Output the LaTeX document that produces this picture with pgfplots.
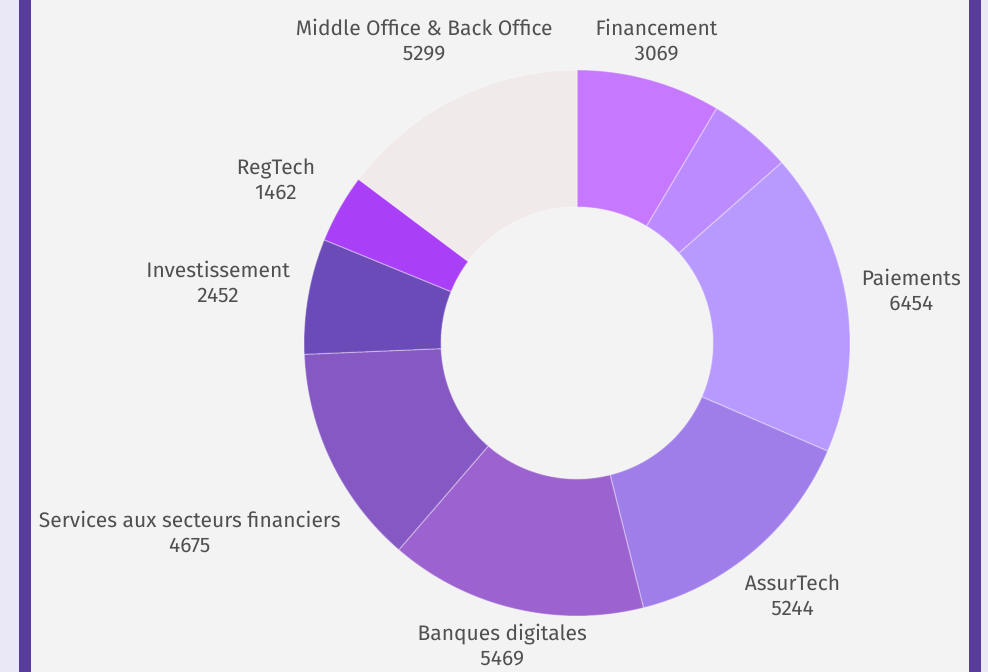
\documentclass[border=0pt]{standalone}
\usepackage{pgfplots}
\pgfplotsset{compat=1.18}
\usepackage{pgfplotstable}
\usepackage{fontspec}
\setmainfont{Fira Sans}
\definecolor{lav}{HTML}{EAE8F6}
\definecolor{brd}{HTML}{573D99}
\definecolor{panel}{HTML}{F3F3F3}
\definecolor{txt}{HTML}{505050}

% segments clockwise from 12 o'clock; nx/ny nudge the label (px)
\pgfplotstableread[col sep=semicolon]{
label;value;hex;show;nx;ny
Financement;3069;C678FF;1;-3;4
Autres;1780;BC8CFF;0;0;0
Paiements;6454;B89AFF;1;0;0
AssurTech;5244;A07EEA;1;11;-12
Banques digitales;5469;9C62CF;1;-3;0
Services aux secteurs financiers;4675;8658C3;1;-80;-41
Investissement;2452;6B4BB8;1;-3;0
RegTech;1462;A93FF6;1;-11;0
Middle Office \& Back Office;5299;F1EAEA;1;-13;24
}\donut

\begin{document}
% total (in thousands, to stay inside pgfmath range)
\pgfmathsetmacro\total{0}%
\pgfplotsforeachungrouped \i in {0,...,8}{%
  \pgfplotstablegetelem{\i}{value}\of\donut
  \pgfmathsetmacro\total{\total+\pgfplotsretval/1000}%
}%
\def\cum{0}%
\pgfplotsforeachungrouped \i in {0,...,8}{%
  \pgfmathsetmacro\angA{90-360*\cum/\total}%
  \pgfplotstablegetelem{\i}{value}\of\donut
  \expandafter\let\csname val\i\endcsname\pgfplotsretval
  \pgfmathsetmacro\cum{\cum+\pgfplotsretval/1000}%
  \pgfmathsetmacro\angB{90-360*\cum/\total}%
  \pgfmathsetmacro\angM{(\angA+\angB)/2}%
  \pgfmathsetmacro\angN{\angM+180}%
  \expandafter\let\csname sa\i\endcsname\angA
  \expandafter\let\csname sb\i\endcsname\angB
  \expandafter\let\csname sm\i\endcsname\angM
  \expandafter\let\csname sn\i\endcsname\angN
  \pgfplotstablegetelem{\i}{label}\of\donut
  \expandafter\let\csname lab\i\endcsname\pgfplotsretval
  \pgfplotstablegetelem{\i}{show}\of\donut
  \expandafter\let\csname show\i\endcsname\pgfplotsretval
  \pgfplotstablegetelem{\i}{nx}\of\donut
  \pgfmathsetmacro\tmp{577+\pgfplotsretval}%
  \expandafter\let\csname cx\i\endcsname\tmp
  \pgfplotstablegetelem{\i}{ny}\of\donut
  \pgfmathsetmacro\tmp{329+\pgfplotsretval}%
  \expandafter\let\csname cy\i\endcsname\tmp
  \pgfplotstablegetelem{\i}{hex}\of\donut
  \definecolor{seg\i}{HTML}{\pgfplotsretval}%
}%
\def\Rout{136.5pt}\def\Rin{68pt}\def\Rlab{143pt}%
\begin{tikzpicture}
\begin{axis}[
  x=0.5pt,y=0.5pt,xmin=0,xmax=988,ymin=0,ymax=672,
  hide axis,clip=false,
]
% frame
\fill[lav] (axis cs:0,0) rectangle (axis cs:988,672);
\fill[panel] (axis cs:30.5,0) rectangle (axis cs:968.5,672);
\fill[brd] (axis cs:18.5,0) rectangle (axis cs:30.5,672);
\fill[brd] (axis cs:968.5,0) rectangle (axis cs:980.5,672);
\coordinate (bl) at (axis cs:0,0);
\coordinate (tr) at (axis cs:988,672);
% donut
\pgfplotsinvokeforeach{0,...,8}{
  \path[fill=seg#1,draw=white,draw opacity=0.35,line width=0.6pt,shift={(axis cs:577,329)}]
    (\csname sa#1\endcsname:\Rout)
    arc[start angle=\csname sa#1\endcsname,end angle=\csname sb#1\endcsname,radius=\Rout]
    -- (\csname sb#1\endcsname:\Rin)
    arc[start angle=\csname sb#1\endcsname,end angle=\csname sa#1\endcsname,radius=\Rin]
    -- cycle;
}
\pgfplotsinvokeforeach{0,...,8}{
  \ifnum\csname show#1\endcsname=1\relax
  \node[shift={(axis cs:\csname cx#1\endcsname,\csname cy#1\endcsname)},
    anchor=\csname sn#1\endcsname,align=center,
    inner sep=1pt,text=txt,font=\fontsize{10.5}{12.5}\selectfont]
    at (\csname sm#1\endcsname:\Rlab)
    {\csname lab#1\endcsname\\\csname val#1\endcsname};
  \fi
}
\end{axis}
\pgfresetboundingbox
\path[use as bounding box] (bl) rectangle (tr);
\end{tikzpicture}
\end{document}
